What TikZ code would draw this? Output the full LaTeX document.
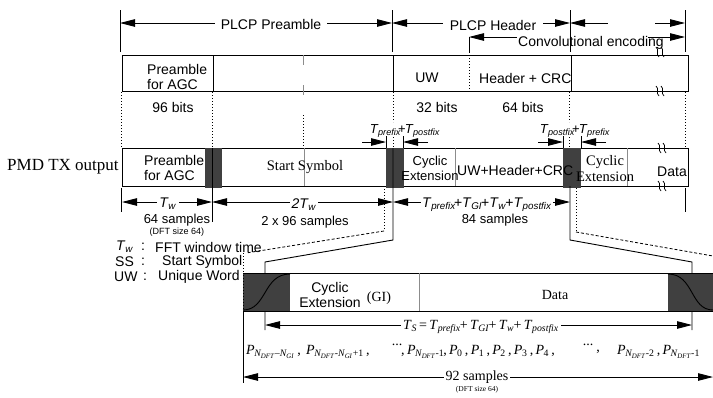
\documentclass[tikz,border=0pt]{standalone}
\usepackage{fontspec}
\setmainfont{Liberation Serif}
\setsansfont{Liberation Sans}
\usetikzlibrary{arrows.meta}
\newcommand\Tsb[1]{\textit{T}\kern-0.3pt\textsubscript{\textit{#1}}}
\newcommand\Psb[1]{\textit{P}\kern-0.5pt\textsubscript{#1}}
\newcommand\Nsb[1]{\textit{N}\kern-0.3pt\textsubscript{\textit{#1}}}
\begin{document}
\begin{tikzpicture}[x=1pt,y=-1pt,
  >={Triangle[length=15pt,width=7.5pt]},
  every node/.style={inner sep=0pt},
  sfn/.style={font=\sffamily\fontsize{14}{15}\selectfont},
  sfs/.style={font=\sffamily\fontsize{13}{15}\selectfont},
  rmn/.style={font=\rmfamily\fontsize{14}{15}\selectfont},
  dftsmall/.style={font=\sffamily\fontsize{9}{10}\selectfont},
  dftsmallrm/.style={font=\rmfamily\fontsize{7.5}{9}\selectfont},
  ln/.style={line width=0.9pt},
  dotl/.style={line width=0.9pt, dash pattern=on 1pt off 2pt},
  dashl/.style={line width=0.8pt, dash pattern=on 3pt off 2pt},
  blk/.style={fill=black!75, draw=none},
  grayl/.style={line width=0.9pt, draw=black!45},
]
\useasboundingbox (0,0) rectangle (713,397);

% ---------- top dimension row ----------
\draw[ln] (120,10) -- (120,52);
\draw[ln] (392,10) -- (392,52);
\draw[ln] (570,10) -- (570,52);
\draw[ln] (685,10) -- (685,52);
\draw[ln] (469,37) -- (469,53);
\draw[ln,<-] (120,23) -- (215,23);
\node[sfn] (plcpP) at (271,24) {PLCP Preamble};
\draw[ln,->] (327,23) -- (392,23);
\draw[ln,<-] (392,23) -- (443,23);
\node[sfn] (plcpH) at (493,25) {PLCP Header};
\draw[ln,->] (543,23) -- (570,23);
\draw[ln,<-] (570,23) -- (608,23);
\draw[ln,->] (655,23) -- (685,23);
\draw[ln,<-] (469,37) -- (517,37);
\node[sfn] (conv) at (591,43) {Convolutional encoding};
\draw[ln,->] (648,37) -- (685,37);

% ---------- top box ----------
\draw[ln] (122,55) rectangle (688,91);
\draw[ln] (213,55) -- (213,91);
\draw[ln] (393,55) -- (393,91);
\draw[ln] (571,55) -- (571,91);
\draw[dotl] (469,55) -- (469,91);
\draw[grayl, dash pattern=on 10pt off 20pt] (303,55) -- (303,95);
\node[sfn, align=left, anchor=west] (agc1) at (147,77) {Preamble\\for AGC};
\node[sfn] (uw1) at (427,78) {UW};
\node[sfn, anchor=west] (hcrc) at (479,78) {Header + CRC};
\node[sfn] (b96) at (173,107) {96 bits};
\node[sfn] (b32) at (437,107) {32 bits};
\node[sfn] (b64) at (523,107) {64 bits};
% wavy breaks
\foreach \x/\y in {660/52,660/91,662/148,662/186}{
  \foreach \d in {-2.5,2.5}{
    \draw[line width=0.7pt] (\x+\d-1.5,\y-5) .. controls (\x+\d+2.5,\y-2) and (\x+\d-2.5,\y+2) .. (\x+\d+1.5,\y+5);
  }
}

% dotted projections
\draw[dotl] (121,92) -- (121,148);
\draw[dotl] (212,92) -- (212,148);
\draw[dotl] (303,115) -- (303,148);
\draw[dotl] (393,92) -- (393,122);
\draw[dotl] (393,137) -- (393,148);
\draw[dotl] (569,92) -- (569,122);
\draw[dotl] (569,137) -- (569,148);
\draw[dotl] (685,92) -- (685,148);

% T prefix / postfix labels
\node[sfs] (tpp1) at (405,131) {\Tsb{prefix}\kern-3pt+\kern-1pt\Tsb{postfix}};
\draw[ln,->] (362,142) -- (386,142);
\draw[ln] (386,136) -- (386,148);
\draw[ln,->] (428,142) -- (403,142);
\draw[ln] (403,136) -- (403,148);
\node[sfs] (tpp2) at (575,131) {\Tsb{postfix}\kern-3pt+\kern-1pt\Tsb{prefix}};
\draw[ln,->] (538,142) -- (563,142);
\draw[ln] (563,136) -- (563,148);
\draw[ln,->] (606,142) -- (581,142);
\draw[ln] (581,136) -- (581,148);

% ---------- middle box ----------
\node[font=\rmfamily\fontsize{17}{18}\selectfont, anchor=west] (pmd) at (7,167) {PMD TX output};
\draw[ln] (122,148) rectangle (688,186);
\draw[grayl] (304,148) -- (304,186);
\draw[grayl] (455,148) -- (455,186);
\draw[grayl] (627,148) -- (627,186);
\fill[blk] (205,148) rectangle (222,188);
\fill[blk] (386,148) rectangle (404,188);
\fill[blk] (563,148) rectangle (581,188);
\node[sfn, align=left, anchor=west] (agc2) at (144,168) {Preamble\\for AGC};
\node[font=\rmfamily\fontsize{14.5}{15}\selectfont] (ss) at (305,167) {Start Symbol};
\node[sfs, align=center] (ce1) at (430,168) {Cyclic\\Extension};
\node[sfn, anchor=west] (uwh) at (457,170) {UW+Header+CRC};
\node[font=\rmfamily\fontsize{14.5}{16}\selectfont, align=center] (ce2) at (605,169) {Cyclic\\Extension};
\node[sfn] (data1) at (672,172) {Data};

% ---------- dimension row below middle box ----------
\draw[ln] (121,188) -- (121,212);
\draw[ln] (212,148) -- (212,222);
\draw[ln] (685,188) -- (685,212);
\draw[ln,<->] (122,202) -- (212,202);
\node[sfn, fill=white, inner sep=2pt] (tw) at (168,204) {\Tsb{w}};
\draw[ln,<->] (212,202) -- (393,202);
\node[sfn, fill=white, inner sep=2pt] (twtw) at (304,205) {\textit{2}\Tsb{w}};
\draw[ln,<->] (393,202) -- (570,202);
\node[sfn, fill=white, inner sep=1pt] (tsum) at (487,205) {\Tsb{prefix}\kern-2pt+\Tsb{GI}\kern-1pt+\Tsb{w}\kern-1pt+\Tsb{postfix}};
\node[sfs] (s64) at (177,220) {64 samples};
\node[dftsmall] (dft1) at (177,232) {(DFT size 64)};
\node[sfs] (s192) at (305,222) {2 x 96 samples};
\node[sfs] (s84) at (495,220) {84 samples};

% ---------- legend ----------
\node[sfn, anchor=west] (lg1a) at (116,247) {\Tsb{w}};
\node[sfn] (lg1b) at (143,247) {:};
\node[sfn, anchor=west] (lg1c) at (155,247) {FFT window time};
\node[sfn, anchor=west] (lg2a) at (115,262) {SS};
\node[sfn] (lg2b) at (143,262) {:};
\node[sfn, anchor=west] (lg2c) at (162,262) {Start Symbol};
\node[sfn, anchor=west] (lg3a) at (114,277) {UW};
\node[sfn] (lg3b) at (145,277) {:};
\node[sfn, anchor=west] (lg3c) at (158,277) {Unique Word};

% ---------- zoom connectors ----------
\draw[ln] (393,148) -- (393,240) -- (265,262) -- (265,330);
\draw[ln] (570,186) -- (570,240) -- (692,262) -- (692,330);
\draw[dotl] (384,186) -- (384,231);
\draw[dashl] (384,231) -- (246,253);
\draw[dotl] (243,253) -- (243,273);
\draw[dotl] (576,188) -- (576,232);
\draw[dashl] (576,232) -- (713,256);

% ---------- bottom box ----------
\fill[blk] (243,273) rectangle (290,311);
\fill[blk] (668,273) rectangle (713,311);
\draw[ln] (243,273) -- (713,273);
\draw[ln] (243,311) -- (713,311);
\draw[grayl] (419,273) -- (419,311);
\draw[ln] (243,310) .. controls (267,310) and (263,274) .. (290,274);
\draw[ln] (668,274) .. controls (694,274) and (690,310) .. (713,310);
\draw[dotl] (243,275) -- (243,311);
\draw[ln] (243,311) -- (243,383);
\node[sfn, align=center] (ce3) at (330,295) {Cyclic\\Extension};
\node[rmn] (gi) at (379,298) {(GI)};
\node[rmn] (data2) at (555,295) {Data};

% Ts arrow
\draw[ln,<->] (265,325) -- (692,325);
\node[rmn, fill=white, inner sep=2pt] (tsf) at (481,327) {\Tsb{S}\,=\,\Tsb{prefix}\kern-1pt+\,\Tsb{GI}\kern-1pt+\,\Tsb{w}\kern-0.5pt+\,\Tsb{postfix}};

% P row
\node[rmn, anchor=west] (p1) at (246,352) {\Psb{\Nsb{DFT}\textit{--}\Nsb{GI}}\,,};
\node[rmn, anchor=west] (p2) at (306,352) {\Psb{\Nsb{DFT}\textit{-}\Nsb{GI}+1}\,,};
\node[rmn] (dots1) at (397,345) {...};
\node[rmn, anchor=west] (p3) at (401,352) {,\,\Psb{\Nsb{DFT}-1}\kern-1pt,\,\Psb{0}\,,\,\Psb{1}\,,\,\Psb{2}\,,\,\Psb{3}\,,\,\Psb{4}\,,};
\node[rmn] (dots2) at (588,345) {...};
\node[rmn] (comma) at (598,352) {,};
\node[rmn, anchor=west] (p4) at (617,352) {\Psb{\Nsb{DFT}-2}\,,\,\Psb{\Nsb{DFT}-1}};

% 92 samples
\draw[ln,<->] (243,377) -- (713,377);
\node[rmn, fill=white, inner sep=1.5pt] (s92) at (477,377) {92 samples};
\node[dftsmallrm] (dft2) at (477,390) {(DFT size 64)};
\end{tikzpicture}
\end{document}
